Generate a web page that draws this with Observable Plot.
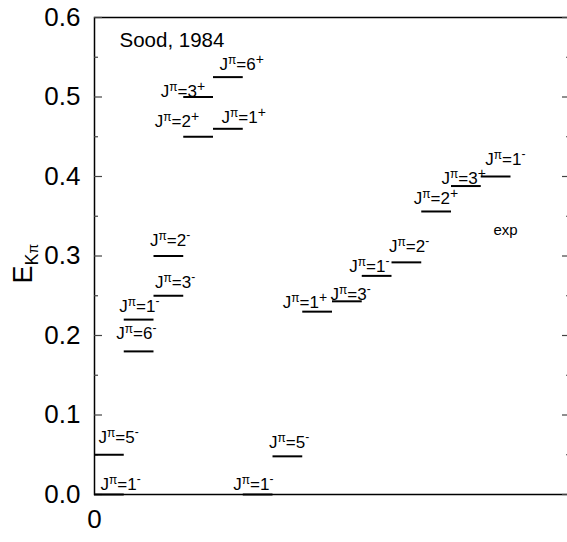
<!DOCTYPE html>
<html>
<head>
<meta charset="utf-8">
<script src="https://cdn.jsdelivr.net/npm/d3@7"></script>
<script src="https://cdn.jsdelivr.net/npm/@observablehq/plot@0.6"></script>
<style>
  html, body { margin: 0; padding: 0; background: #fff; }
</style>
</head>
<body>
<div id="chart"></div>
<script>
// ---- data ----
const slots    = [0, 0, 1, 1, 2, 2, 3, 3, 4, 4, 5, 6, 7, 8, 9, 10, 11, 12, 13];
const energies = [0, 0.05, 0.18, 0.22, 0.25, 0.30, 0.45, 0.50, 0.46, 0.525, 0, 0.048, 0.23, 0.243, 0.275, 0.292, 0.356, 0.388, 0.400];
const spins    = ["1", "5", "6", "1", "3", "2", "2", "3", "1", "6", "1", "5", "1", "3", "1", "2", "2", "3", "1"];
const parities = ["-", "-", "-", "-", "-", "-", "+", "+", "+", "+", "-", "-", "+", "-", "-", "-", "+", "+", "-"];
const yTicks      = [0, 0.1, 0.2, 0.3, 0.4, 0.5, 0.6];
const yMinorTicks = [0.05, 0.15, 0.25, 0.35, 0.45, 0.55];
const xTicks      = [0];
const sourceNote  = "Sood, 1984";
const expNote     = "exp";

// ---- layout (pixel offsets of each label from its level's left end) ----
const labelDx = [6, 4, -8, -5, 1, -4, -29, -23, 8, 6, -10, -4, -20, -2, -13, -3, -8, -10, 4];
const labelDy = [-5, -12, -12, -8, -8, -10, -10, 0, -6, -7, -5, -8, -4, -1, -4, -10, -7, -2, -12];

const levels = slots.map((s, i) => ({slot: s, E: energies[i], J: spins[i], P: parities[i]}));

const W = 567, H = 542;
const mL = 94, mR = -3, mT = 17, mB = 48;
const innerW = W - mL - mR;

const labelMarks = levels.map((d, i) =>
  Plot.text([d], {
    x: "slot", y: "E",
    text: d => `Jπ=${d.J}${d.P}`,
    dx: labelDx[i], dy: labelDy[i],
    textAnchor: "start", lineAnchor: "bottom",
    fontSize: 17, fill: "#000"
  })
);

const chart = Plot.plot({
  width: W, height: H,
  marginLeft: mL, marginRight: mR, marginTop: mT, marginBottom: mB,
  style: {fontFamily: "Arial, 'Liberation Sans', sans-serif", background: "#fff", color: "#000"},
  x: {domain: [0, 16]},
  y: {domain: [0, 0.6]},
  marks: [
    Plot.frame({stroke: "#000", strokeWidth: 1.5}),
    // inward ticks, left
    Plot.tickY(yTicks, {y: d => d, insetRight: innerW - 8, stroke: "#444", strokeWidth: 1.2}),
    Plot.tickY(yMinorTicks, {y: d => d, insetRight: innerW - 4, stroke: "#444", strokeWidth: 1.2}),
    // inward ticks, right
    Plot.tickY(yTicks, {y: d => d, insetLeft: innerW - 8, stroke: "#444", strokeWidth: 1.2}),
    Plot.tickY(yMinorTicks, {y: d => d, insetLeft: innerW - 4, stroke: "#444", strokeWidth: 1.2}),
    Plot.axisY(yTicks, {anchor: "left", tickSize: 0, tickPadding: 14, fontSize: 26, tickFormat: d3.format(".1f"), label: null}),
    Plot.axisX(xTicks, {anchor: "bottom", tickSize: 0, tickPadding: 15, fontSize: 26, tickFormat: d => String(d), label: null}),
    // energy levels
    Plot.ruleY(levels, {y: "E", x1: "slot", x2: d => d.slot + 1, stroke: "#000", strokeWidth: 2}),
    ...labelMarks,
    Plot.text([sourceNote], {frameAnchor: "top-left", dx: 25, dy: 29, textAnchor: "start", lineAnchor: "bottom", fontSize: 20.5, fill: "#000"}),
    Plot.text([expNote], {frameAnchor: "top-left", dx: 399, dy: 217, textAnchor: "start", lineAnchor: "bottom", fontSize: 15, fill: "#000"}),
    Plot.text(["E"], {frameAnchor: "left", dx: -63, dy: 27.5, rotate: -90, textAnchor: "start", lineAnchor: "bottom", fontSize: 27, fill: "#000"})
  ]
});

document.getElementById("chart").appendChild(chart);

// rich text: superscripts in level labels (DOM order follows mark order)
let k = 0;
d3.select(chart).selectAll("text")
  .filter(function() { return /^Jπ=/.test(this.textContent); })
  .each(function() {
    const i = k++;
    const t = d3.select(this);
    const plus = parities[i] === "+";
    t.text(null);
    t.append("tspan").text("J");
    t.append("tspan").attr("font-size", 12).attr("dy", -6).text("π");
    t.append("tspan").attr("dy", 6).text("=" + spins[i]);
    t.append("tspan").attr("font-size", plus ? 14 : 12).attr("dy", plus ? -6 : -7).text(parities[i]);
  });

// rich text: subscript in y label
d3.select(chart).selectAll("text")
  .filter(function() { return this.textContent === "E"; })
  .each(function() {
    const t = d3.select(this);
    t.text(null);
    t.append("tspan").text("E");
    t.append("tspan").attr("font-size", 18).attr("dy", 6).text("K");
    t.append("tspan").attr("font-size", 14).text("π");
  });
</script>
</body>
</html>
